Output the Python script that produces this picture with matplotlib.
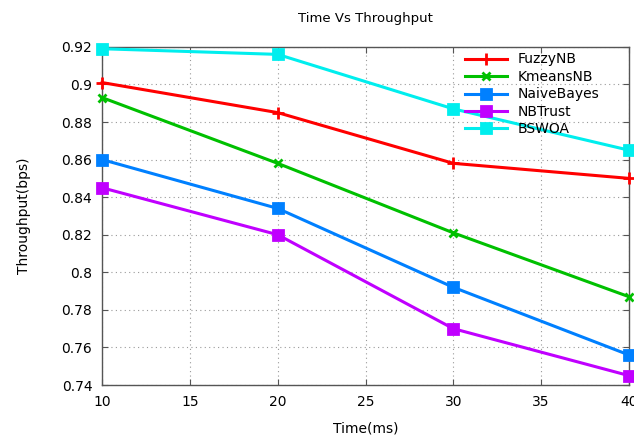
import matplotlib
matplotlib.use("Agg")
import matplotlib.pyplot as plt

time_ms = [10, 20, 30, 40]
fuzzy_nb = [0.901, 0.885, 0.858, 0.850]
kmeans_nb = [0.893, 0.858, 0.821, 0.787]
naive_bayes = [0.860, 0.834, 0.792, 0.756]
nb_trust = [0.845, 0.820, 0.770, 0.745]
bswoa = [0.919, 0.916, 0.887, 0.865]

series = [
    ("FuzzyNB", fuzzy_nb, "#ff0000", "+", 9),
    ("KmeansNB", kmeans_nb, "#00c000", "x", 6),
    ("NaiveBayes", naive_bayes, "#0080ff", "s", 6.5),
    ("NBTrust", nb_trust, "#c000ff", "s", 6.5),
    ("BSWOA", bswoa, "#00eeee", "s", 6.5),
]

fig = plt.figure(figsize=(6.34, 4.38), dpi=100)
ax = fig.add_axes([0.161, 0.121, 0.831, 0.772])

for name, vals, col, mk, ms in series:
    ax.plot(time_ms, vals, color=col, marker=mk, markersize=ms, linewidth=2.2,
            markeredgewidth=2, label=name, clip_on=False, zorder=3)

ax.set_xlim(10, 40)
ax.set_ylim(0.74, 0.92)
ax.set_xticks(range(10, 41, 5))
ax.set_yticks([0.74 + 0.02 * i for i in range(10)])
ax.set_yticklabels(["0.74", "0.76", "0.78", "0.8", "0.82", "0.84", "0.86", "0.88", "0.9", "0.92"])
ax.grid(True, linestyle=(0, (1, 3)), color="#999999", linewidth=0.8)
ax.tick_params(direction="in", top=True, right=True, labelsize=10, length=4,
               color="#555555", pad=7)
for s in ax.spines.values():
    s.set_color("#555555")
    s.set_linewidth(1.0)

ax.set_title("Time Vs Throughput", fontsize=9.5, pad=18)
ax.set_xlabel("Time(ms)", fontsize=10, labelpad=9)
ax.set_ylabel("Throughput(bps)", fontsize=10, labelpad=22)

ax.legend(loc="upper right", frameon=False, fontsize=10, handlelength=3,
          labelspacing=0.25, borderaxespad=0.0, bbox_to_anchor=(0.955, 1.0))

fig.savefig("out.png", dpi=100)
